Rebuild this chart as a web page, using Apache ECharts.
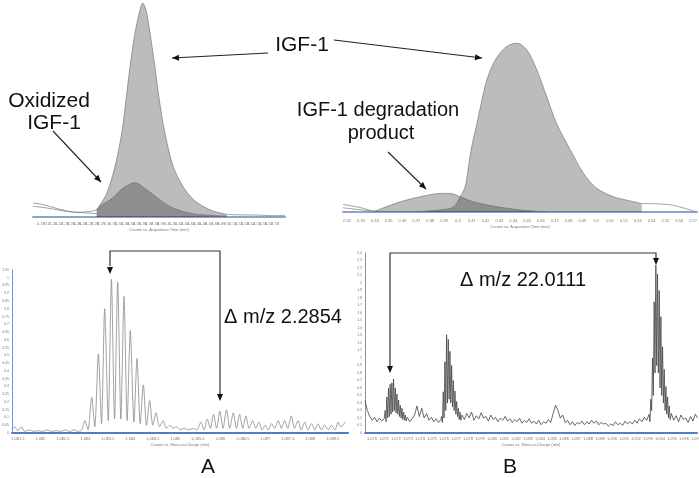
<!DOCTYPE html>
<html>
<head>
<meta charset="utf-8">
<script src="https://cdn.jsdelivr.net/npm/echarts@6/dist/echarts.min.js"></script>
<style>
  html, body { margin: 0; padding: 0; background: #fff; }
  #app { width: 699px; height: 478px; }
</style>
</head>
<body>
<div id="app"></div>
<script>
// chromatogram, oxidized IGF-1 (time in min, relative height)
const tlMain = [[0.2828,3.3],[0.2995,11],[0.3133,23.5],[0.3245,39],[0.3317,54.7],[0.3383,70],[0.3467,86],[0.355,96.7],[0.3595,100],[0.365,96.7],[0.3717,86],[0.38,70],[0.3872,54.7],[0.3967,39],[0.4105,23.5],[0.4272,14],[0.4445,8],[0.4722,3.3],[0.50,1.2]];
const tlOx = [[0.2828,3.3],[0.2883,5],[0.31,9],[0.3267,13.5],[0.3467,16],[0.3667,12.6],[0.3883,8],[0.41,4.2],[0.4433,1.5],[0.50,0.4]];
const tlTraceA = [[0.1767,6.5],[0.19,6],[0.21,4.5],[0.23,3],[0.25,2.2],[0.27,2.5],[0.2828,3.3]];
const tlTraceB = [[0.1767,5],[0.2,4.2],[0.22,3.2],[0.24,2.4],[0.26,2],[0.2828,1.6]];
const tlTraceC = [[0.50,1.2],[0.52,1],[0.55,0.9],[0.58,0.6],[0.5967,0.8]];
const tlTicks = [0.18,0.19,0.2,0.21,0.22,0.23,0.24,0.25,0.26,0.27,0.28,0.29,0.3,0.31,0.32,0.33,0.34,0.35,0.36,0.37,0.38,0.39,0.4,0.41,0.42,0.43,0.44,0.45,0.46,0.47,0.48,0.49,0.5,0.51,0.52,0.53,0.54,0.55,0.56,0.57,0.58,0.59];

// chromatogram, degradation product
const trMain = [[0.37,0.2],[0.3872,1.2],[0.3968,3],[0.4017,9],[0.4053,15],[0.4077,27],[0.4101,39],[0.4137,52],[0.4173,66],[0.4209,78],[0.4257,88],[0.4305,94],[0.4354,98],[0.4426,100],[0.4498,96],[0.4571,84],[0.4643,68],[0.4715,52],[0.4811,37],[0.4907,23],[0.5004,14],[0.5124,9],[0.5221,7],[0.5329,5]];
const trDeg = [[0.3388,0],[0.346,2.4],[0.3583,6],[0.3727,9],[0.3872,11],[0.3944,11],[0.4017,9],[0.4111,6],[0.4255,3.5],[0.445,1.2],[0.4645,0]];
const trTraceA = [[0.317,4.5],[0.33,2.5],[0.3388,0.3]];
const trTraceB = [[0.317,2.5],[0.333,1],[0.345,0.2]];
const trTraceC = [[0.5329,5],[0.5534,4.3],[0.5714,0.3]];
const trTicks = [0.32,0.33,0.34,0.35,0.36,0.37,0.38,0.39,0.4,0.41,0.42,0.43,0.44,0.45,0.46,0.47,0.48,0.49,0.5,0.51,0.52,0.53,0.54,0.55,0.56,0.57];

// mass spectrum A  [m/z, counts]
const specA = [[1081.37,0.02],[1081.43,0.04],[1081.5,0.015],[1081.58,0.04],[1081.65,0.01],[1081.75,0.02],[1081.85,0.01],[1081.95,0.015],[1082.05,0.01],[1082.15,0.02],[1082.25,0.01],[1082.35,0.015],[1082.45,0.01],[1082.55,0.02],[1082.65,0.01],[1082.75,0.02],[1082.85,0.01],[1082.92,0.02],
  [1082.99,0.08],[1083.06,0.02],[1083.14,0.23],[1083.21,0.04],[1083.29,0.51],[1083.36,0.06],[1083.43,0.80],[1083.51,0.08],[1083.58,0.99],[1083.65,0.09],[1083.72,0.97],[1083.79,0.09],[1083.86,0.88],[1083.93,0.08],[1084.0,0.66],[1084.08,0.07],[1084.15,0.48],[1084.22,0.06],[1084.29,0.31],[1084.36,0.05],[1084.43,0.21],[1084.5,0.05],[1084.57,0.13],[1084.65,0.04],[1084.73,0.08],[1084.8,0.03],[1084.88,0.05],[1084.95,0.03],[1085.03,0.04],[1085.1,0.02],[1085.2,0.03],[1085.3,0.02],[1085.4,0.03],[1085.48,0.02],
  [1085.57,0.07],[1085.64,0.02],[1085.71,0.09],[1085.78,0.03],[1085.85,0.12],[1085.92,0.03],[1085.99,0.14],[1086.06,0.03],[1086.14,0.15],[1086.21,0.03],[1086.29,0.13],[1086.36,0.03],[1086.43,0.12],[1086.5,0.03],[1086.57,0.11],[1086.64,0.03],[1086.72,0.08],[1086.79,0.03],[1086.86,0.07],[1086.93,0.02],[1087.0,0.05],[1087.07,0.02],[1087.14,0.06],[1087.21,0.03],[1087.29,0.08],[1087.36,0.03],[1087.43,0.08],[1087.5,0.03],[1087.58,0.11],[1087.65,0.03],[1087.73,0.08],[1087.8,0.02],[1087.88,0.07],[1087.95,0.02],[1088.03,0.06],[1088.1,0.02],[1088.17,0.06],[1088.25,0.02],[1088.32,0.05],[1088.4,0.02],[1088.47,0.05],[1088.55,0.02],[1088.62,0.07],[1088.68,0.04],[1088.78,0.07]];
const aTicksX = [1081.5,1082,1082.5,1083,1083.5,1084,1084.5,1085,1085.5,1086,1086.5,1087,1087.5,1088,1088.5];
const aTicksY = [0,0.05,0.1,0.15,0.2,0.25,0.3,0.35,0.4,0.45,0.5,0.55,0.6,0.65,0.7,0.75,0.8,0.85,0.9,0.95,1,1.05];

// mass spectrum B, sampled in segments (start m/z, step, counts)
const bStarts = [1069.42, 1071.1, 1072.95, 1075.8, 1077.5, 1093.1, 1094.95];
const bSteps = [0.2, 0.07, 0.2, 0.07, 0.2, 0.07, 0.2];
const bNoiseA = [0.43,0.30,0.22,0.17,0.21,0.15,0.20,0.16,0.19];
const bPeak1 = [0.3,0.15,0.48,0.2,0.60,0.22,0.65,0.25,0.67,0.28,0.72,0.3,0.60,0.27,0.52,0.25,0.44,0.22,0.37,0.2,0.33,0.18,0.28,0.17,0.24,0.16];
const bNoiseB = [0.21,0.15,0.19,0.24,0.36,0.22,0.33,0.2,0.26,0.17,0.21,0.15,0.19,0.14,0.18];
const bPeak2 = [0.22,0.14,0.55,0.2,0.95,0.3,1.31,0.4,1.25,0.45,1.09,0.4,0.9,0.35,0.7,0.3,0.56,0.25,0.42,0.22,0.33,0.18,0.28,0.17];
const bNoiseC = [0.24,0.18,0.26,0.2,0.28,0.17,0.23,0.19,0.27,0.2,
  0.22,0.16,0.24,0.18,0.21,0.15,0.2,0.17,0.22,0.16,
  0.19,0.14,0.18,0.15,0.2,0.13,0.17,0.14,0.19,0.13,
  0.16,0.12,0.17,0.11,0.15,0.13,0.18,0.14,0.26,0.37,
  0.3,0.2,0.24,0.14,0.17,0.11,0.15,0.1,0.14,0.12,
  0.16,0.11,0.15,0.12,0.17,0.13,0.16,0.11,0.14,0.12,
  0.13,0.09,0.12,0.1,0.15,0.11,0.13,0.1,0.16,0.12,
  0.15,0.12,0.17,0.13,0.19,0.15,0.21,0.17];
const bPeak3 = [0.25,0.15,0.45,0.3,1.0,0.5,1.75,0.8,2.24,0.9,2.12,0.8,1.9,0.6,1.55,0.5,1.15,0.4,0.85,0.3,0.62,0.25,0.48,0.2,0.36,0.18];
const bNoiseD = [0.26,0.17,0.23,0.15,0.24,0.18,0.2,0.14,0.22,0.16,0.25,0.2];
const bTicksX = [1070,1071,1072,1073,1074,1075,1076,1077,1078,1079,1080,1081,1082,1083,1084,1085,1086,1087,1088,1089,1090,1091,1092,1093,1094,1095,1096,1097];
const bTicksY = [0,0.1,0.2,0.3,0.4,0.5,0.6,0.7,0.8,0.9,1,1.1,1.2,1.3,1.4,1.5,1.6,1.7,1.8,1.9,2,2.1,2.2,2.3,2.4];

const FONT = '"Liberation Sans", Arial, sans-serif';

function buildSpecB() {
  const parts = [bNoiseA, bPeak1, bNoiseB, bPeak2, bNoiseC, bPeak3, bNoiseD];
  const out = [];
  parts.forEach((p, k) => {
    p.forEach((v, i) => out.push([+(bStarts[k] + i * bSteps[k]).toFixed(3), v]));
  });
  return out;
}

function timeAxis(idx, min, max, ticks, offset) {
  return {
    type: 'value', gridIndex: idx, min, max, offset,
    axisLine: { lineStyle: { color: '#8aa4cf', width: 2 } },
    axisTick: { show: false },
    splitLine: { show: false },
    axisLabel: { customValues: ticks, fontSize: 4, color: '#777', margin: 4, fontFamily: FONT },
    name: 'Counts vs. Acquisition Time (min)', nameLocation: 'middle', nameGap: 10,
    nameTextStyle: { fontSize: 4, color: '#777', fontFamily: FONT }
  };
}

function specAxisX(idx, min, max, ticks) {
  return {
    type: 'value', gridIndex: idx, min, max,
    axisLine: { lineStyle: { color: '#4f7fc0', width: 2 } },
    axisTick: { show: false },
    splitLine: { show: false },
    axisLabel: { customValues: ticks, fontSize: 4, color: '#777', margin: 4, fontFamily: FONT },
    name: 'Counts vs. Mass-to-Charge (m/z)', nameLocation: 'middle', nameGap: 10,
    nameTextStyle: { fontSize: 4, color: '#777', fontFamily: FONT }
  };
}

function specAxisY(idx, max, ticks) {
  return {
    type: 'value', gridIndex: idx, min: 0, max,
    axisLine: { show: true, lineStyle: { color: '#6f95cc', width: 1 } },
    axisTick: { show: false },
    splitLine: { show: false },
    axisLabel: { customValues: ticks, fontSize: 3.5, color: '#777', margin: 3, fontFamily: FONT }
  };
}

function traceLine(x, y, data) {
  return { type: 'line', xAxisIndex: x, yAxisIndex: y, data, showSymbol: false, smooth: 0.3,
    lineStyle: { color: '#777', width: 0.7 }, z: 3 };
}

function peakArea(x, y, data) {
  return { type: 'line', xAxisIndex: x, yAxisIndex: y, data, showSymbol: false, smooth: 0.3,
    lineStyle: { color: '#6a6a6a', width: 0.6 },
    areaStyle: { color: '#292929', opacity: 0.313 }, z: 2 };
}

function arrowHead(x, y, fx, fy) {
  const a = Math.atan2(y - fy, x - fx);
  const len = 7, w = 3;
  const bx = x - len * Math.cos(a), by = y - len * Math.sin(a);
  return { type: 'polygon', shape: { points: [[x, y], [bx - w * Math.sin(a), by + w * Math.cos(a)], [bx + w * Math.sin(a), by - w * Math.cos(a)]] },
    style: { fill: '#111' }, z: 100 };
}

function arrow(x1, y1, x2, y2) {
  return [
    { type: 'line', shape: { x1, y1, x2, y2 }, style: { stroke: '#222', lineWidth: 1.1 }, z: 100 },
    arrowHead(x2, y2, x1, y1)
  ];
}

function label(text, x, y, size) {
  return { type: 'text', z: 100, style: { text, x, y, fill: '#111', font: size + 'px ' + FONT, textAlign: 'center', textVerticalAlign: 'middle' } };
}

const graphics = [].concat(
  label('IGF-1', 302, 45, 21),
  arrow(268, 53, 172, 58),
  arrow(334, 40, 482, 58),
  label('Oxidized', 49, 101, 21),
  label('IGF-1', 54, 123, 21),
  arrow(53, 131, 101, 182),
  label('IGF-1 degradation', 378, 110, 20),
  label('product', 381, 133, 20),
  arrow(388, 152, 426, 189),
  [{ type: 'polyline', shape: { points: [[110, 266], [110, 251], [220, 251], [220, 394]] }, style: { stroke: '#333', lineWidth: 1.2, fill: null }, z: 100 }],
  [arrowHead(110, 274, 110, 251), arrowHead(220, 401, 220, 251)],
  label('\u0394 m/z 2.2854', 283, 317, 20),
  [{ type: 'polyline', shape: { points: [[390, 366], [390, 253], [656, 253], [656, 258]] }, style: { stroke: '#333', lineWidth: 1.2, fill: null }, z: 100 }],
  [arrowHead(390, 373, 390, 253), arrowHead(656, 265, 656, 253)],
  label('\u0394 m/z 22.0111', 523, 280, 20),
  label('A', 208, 467, 21),
  label('B', 510, 467, 21)
);

const chart = echarts.init(document.getElementById('app'), null, { renderer: 'canvas' });
chart.setOption({
  animation: false,
  backgroundColor: '#fff',
  grid: [
    { left: 33, top: 3, width: 252, height: 214, outerBoundsMode: 'none' },
    { left: 343, top: 43, width: 354, height: 169, outerBoundsMode: 'none' },
    { left: 12, top: 270, width: 336, height: 163, outerBoundsMode: 'none' },
    { left: 365, top: 253, width: 332, height: 180, outerBoundsMode: 'none' }
  ],
  xAxis: [
    timeAxis(0, 0.1767, 0.5967, tlTicks, 1),
    timeAxis(1, 0.317, 0.5728, trTicks, 3),
    specAxisX(2, 1081.37, 1088.84, aTicksX),
    specAxisX(3, 1069.42, 1097.09, bTicksX)
  ],
  yAxis: [
    { type: 'value', gridIndex: 0, min: 0, max: 100, show: false },
    { type: 'value', gridIndex: 1, min: 0, max: 100, show: false },
    specAxisY(2, 1.05, aTicksY),
    specAxisY(3, 2.4, bTicksY)
  ],
  series: [
    traceLine(0, 0, tlTraceA), traceLine(0, 0, tlTraceB), traceLine(0, 0, tlTraceC),
    peakArea(0, 0, tlMain), peakArea(0, 0, tlOx),
    traceLine(1, 1, trTraceA), traceLine(1, 1, trTraceB), traceLine(1, 1, trTraceC),
    peakArea(1, 1, trMain), peakArea(1, 1, trDeg),
    { type: 'line', xAxisIndex: 2, yAxisIndex: 2, data: specA, showSymbol: false, smooth: 0.25,
      lineStyle: { color: '#8a8a8a', width: 0.8 } },
    { type: 'line', xAxisIndex: 3, yAxisIndex: 3, data: buildSpecB(), showSymbol: false,
      lineStyle: { color: '#444', width: 0.8 } }
  ],
  graphic: graphics
});
</script>
</body>
</html>
